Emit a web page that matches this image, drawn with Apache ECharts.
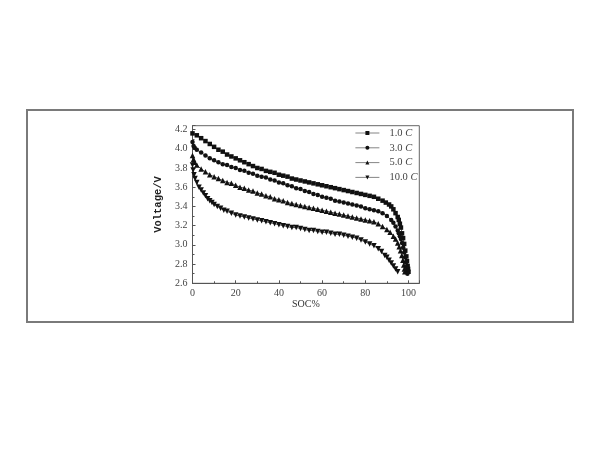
<!DOCTYPE html>
<html><head><meta charset="utf-8">
<script src="https://cdn.jsdelivr.net/npm/echarts@6/dist/echarts.min.js"></script>
<style>html,body{margin:0;padding:0;background:#fff}#c{width:600px;height:450px}</style>
</head><body><div id="c"></div>
<script>
const seriesNames = ['1.0', '3.0', '5.0', '10.0'];
const xTicks = [0, 20, 40, 60, 80, 100];
const yTicks = [2.6, 2.8, 3.0, 3.2, 3.4, 3.6, 3.8, 4.0, 4.2];

const c1 = [[0,4.16],[2,4.14],[4,4.11],[6,4.08],[8,4.05],[10,4.02],[12,3.99],[14,3.97],[16,3.94],[18,3.92],[20,3.90],[22,3.88],[24,3.86],[26,3.84],[28,3.82],[30,3.80],[32,3.79],[34,3.77],[36,3.76],[38,3.75],[40,3.73],[42,3.72],[44,3.71],[46,3.69],[48,3.68],[50,3.67],[52,3.66],[54,3.65],[56,3.64],[58,3.63],[60,3.62],[62,3.61],[64,3.60],[66,3.59],[68,3.58],[70,3.57],[72,3.56],[74,3.55],[76,3.54],[78,3.53],[80,3.52],[82,3.51],[84,3.50],[86,3.48],[88,3.46],[89.5,3.44],[91,3.42],[92,3.40],[93,3.37],[94,3.33],[95,3.29],[95.5,3.26],[96,3.22],[96.5,3.18],[97,3.12],[97.5,3.07],[98,3.01],[98.5,2.94],[99,2.88],[99.3,2.83],[99.6,2.78],[99.8,2.75],[100,2.72]];
const c3 = [[0,4.07],[0.5,4.03],[1,4.01],[2,3.99],[4,3.96],[6,3.93],[8,3.90],[10,3.88],[12,3.86],[14,3.84],[16,3.83],[18,3.81],[20,3.80],[22,3.78],[24,3.77],[26,3.75],[28,3.74],[30,3.72],[32,3.71],[34,3.70],[36,3.68],[38,3.67],[40,3.65],[42,3.64],[44,3.62],[46,3.61],[48,3.59],[50,3.58],[52,3.56],[54,3.55],[56,3.53],[58,3.52],[60,3.50],[62,3.49],[64,3.48],[66,3.46],[68,3.45],[70,3.44],[72,3.43],[74,3.42],[76,3.41],[78,3.40],[80,3.38],[82,3.37],[84,3.36],[86,3.35],[88,3.33],[90,3.30],[92,3.26],[93,3.23],[94,3.19],[95,3.15],[95.5,3.12],[96,3.09],[96.5,3.06],[97,3.02],[97.5,2.97],[98,2.92],[98.4,2.87],[98.8,2.82],[99.1,2.77],[99.3,2.73],[99.5,2.70]];
const c5 = [[0,3.93],[0.5,3.89],[1,3.86],[2,3.83],[4,3.79],[6,3.76],[8,3.73],[10,3.71],[12,3.69],[14,3.67],[16,3.65],[18,3.64],[20,3.62],[22,3.60],[24,3.59],[26,3.57],[28,3.56],[30,3.54],[32,3.53],[34,3.51],[36,3.50],[38,3.48],[40,3.47],[42,3.46],[44,3.44],[46,3.43],[48,3.42],[50,3.41],[52,3.40],[54,3.39],[56,3.38],[58,3.37],[60,3.36],[62,3.35],[64,3.34],[66,3.33],[68,3.32],[70,3.31],[72,3.30],[74,3.29],[76,3.28],[78,3.27],[80,3.26],[82,3.25],[84,3.24],[86,3.22],[88,3.19],[90,3.16],[91.5,3.13],[93,3.09],[94,3.06],[95,3.02],[95.7,2.98],[96.3,2.94],[96.9,2.89],[97.4,2.84],[97.8,2.79],[98.1,2.75],[98.3,2.72]];
const c10 = [[0,3.83],[0.3,3.78],[0.7,3.73],[1.2,3.69],[2,3.65],[3,3.60],[4,3.57],[5,3.54],[6,3.51],[7,3.48],[8,3.46],[9,3.44],[10,3.42],[11.5,3.40],[13,3.38],[14.5,3.36],[16,3.35],[18,3.33],[20,3.31],[22,3.30],[24,3.29],[26,3.28],[28,3.27],[30,3.26],[32,3.25],[34,3.24],[36,3.23],[38,3.22],[40,3.21],[42,3.20],[44,3.19],[46,3.18],[48,3.18],[50,3.17],[52,3.16],[54,3.15],[56,3.15],[58,3.14],[60,3.13],[62,3.13],[64,3.12],[66,3.11],[68,3.11],[70,3.10],[72,3.09],[74,3.08],[76,3.07],[78,3.05],[80,3.03],[82,3.01],[84,2.99],[86,2.96],[87.5,2.93],[89,2.89],[90,2.87],[91,2.84],[92,2.81],[93,2.78],[94,2.75],[95,2.72]];

const curves = [c1, c3, c5, c10];
const symbols = ['rect', 'circle', 'triangle', 'triangle'];
const rotations = [0, 0, 0, 180];
const sizes = [4.5, 4.5, 5.5, 5.5];

const chart = echarts.init(document.getElementById('c'), null, {renderer: 'canvas'});
const serif = '"Liberation Serif", "DejaVu Serif", serif';
const axisCol = '#555';
chart.setOption({
  backgroundColor: '#fff',
  animation: false,
  graphic: [{
    type: 'rect', shape: {x: 27, y: 110, width: 546, height: 212},
    style: {fill: 'none', stroke: '#7a7a7a', lineWidth: 2}, z: -10
  }],
  grid: {left: 192.5, right: 180.7, top: 125.7, bottom: 166.7, show: true, borderColor: '#666', borderWidth: 1, backgroundColor: 'transparent'},
  legend: {
    show: true, left: 350, top: 122.5, orient: 'vertical', itemWidth: 24, itemHeight: 5, itemGap: 3.8,
    data: seriesNames.map(n => n + ' C'),
    lineStyle: {width: 0.8, color: '#666'},
    formatter: name => '{a|' + name.replace(' C', '') + ' }{i|C}',
    textStyle: {
      rich: {
        a: {fontFamily: serif, fontSize: 10.5, color: '#444', lineHeight: 11, padding: [0, 0, 0, 5]},
        i: {fontFamily: serif, fontSize: 10.5, fontStyle: 'italic', color: '#444', lineHeight: 11}
      }
    }
  },
  xAxis: {
    type: 'value', min: 0, max: 105, interval: 20,
    name: 'SOC%', nameLocation: 'middle', nameGap: 14,
    nameTextStyle: {fontFamily: serif, fontSize: 10, color: '#333'},
    axisLine: {show: true, lineStyle: {color: axisCol, width: 1}},
    axisTick: {show: true, inside: true, length: 3, lineStyle: {color: axisCol}},
    minorTick: {show: true, splitNumber: 2, length: 2, lineStyle: {color: axisCol}},
    splitLine: {show: false},
    axisLabel: {fontFamily: serif, fontSize: 10, color: '#444', margin: 5, showMaxLabel: false,
      formatter: v => xTicks.includes(v) ? String(v) : ''}
  },
  yAxis: {
    type: 'value', min: 2.6, max: 4.24, interval: 0.2,
    name: 'Voltage/V', nameLocation: 'middle', nameGap: 29, nameRotate: 90,
    nameTextStyle: {fontFamily: '"Liberation Mono", "DejaVu Sans Mono", monospace', fontWeight: 'bold', fontSize: 10.5, color: '#222'},
    axisLine: {show: true, lineStyle: {color: axisCol, width: 1}},
    axisTick: {show: true, inside: true, length: 3, lineStyle: {color: axisCol}},
    minorTick: {show: true, splitNumber: 2, length: 2, lineStyle: {color: axisCol}},
    splitLine: {show: false},
    axisLabel: {fontFamily: serif, fontSize: 10, color: '#444', margin: 5, showMaxLabel: false,
      formatter: v => {
        const t = yTicks.find(k => Math.abs(k - v) < 1e-6);
        return t === undefined ? '' : t.toFixed(1);
      }}
  },
  series: curves.map((d, i) => ({
    name: seriesNames[i] + ' C', type: 'line', data: d,
    symbol: symbols[i], symbolRotate: rotations[i], symbolSize: sizes[i], showAllSymbol: true,
    lineStyle: {color: '#222', width: 0.8},
    itemStyle: {color: '#111', borderWidth: 0},
    clip: true
  }))
});
</script></body></html>
